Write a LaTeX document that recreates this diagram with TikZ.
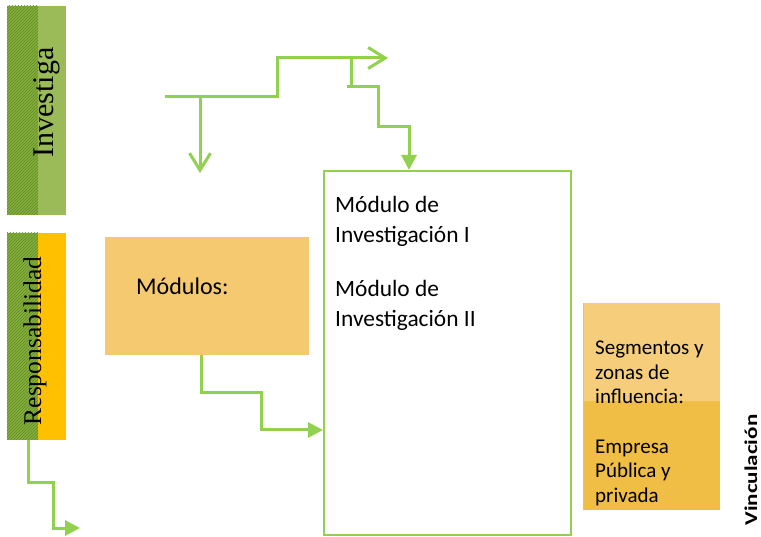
\documentclass[tikz,border=0pt]{standalone}
\usepackage{fontspec}
\setmainfont{Carlito}
\newfontfamily\barfont{Liberation Serif}
\usetikzlibrary{arrows.meta,patterns}

\definecolor{flecha}{HTML}{92D050}
\definecolor{verdeclaro}{HTML}{9BBB59}
\definecolor{verdeosc}{HTML}{86AE3E}
\definecolor{rayas}{HTML}{5F8E24}
\definecolor{naranja}{HTML}{FFC000}
\definecolor{arena}{HTML}{F5C96F}
\definecolor{arenaclara}{HTML}{F6CE7B}
\definecolor{ocre}{HTML}{F0BD45}
\definecolor{borde}{HTML}{E9B996}

\tikzset{
  conector/.style={draw=flecha, line width=3pt},
  abierta/.style={conector, -{Straight Barb[length=17pt,width=21pt]}},
  llena/.style={conector, -{Triangle[length=15pt,width=15pt]}},
  caja/.style={rectangle, inner sep=0pt, anchor=north west},
  texto/.style={anchor=base west, inner sep=0pt, align=left},
}

\begin{document}
\begin{tikzpicture}[x=1pt, y=-1pt]
		\useasboundingbox (0,0) rectangle (761,537);
		
		%side bars
		\node[caja, fill=verdeclaro, minimum width=59pt, minimum height=209pt] (investiga) at (7,6) {};
		\fill[verdeosc] (7,6) rectangle (38,215);
		\fill[pattern=north east lines, pattern color=rayas] (7,6) rectangle (38,215);
		\node[rotate=90, anchor=base, inner sep=0pt, font=\barfont\fontsize{30}{36}\selectfont] (txtinv) at (53,102.5) {Investiga};
		
		\node[caja, fill=naranja, minimum width=59pt, minimum height=207pt] (responsab) at (7,233) {};
		\fill[verdeosc] (7,233) rectangle (38,440);
		\fill[pattern=north east lines, pattern color=rayas] (7,233) rectangle (38,440);
		\node[rotate=90, anchor=base, inner sep=0pt, font=\barfont\fontsize{25.5}{30}\selectfont] (txtresp) at (41,341) {Responsabilidad};
		
		%boxes
		\node[caja, fill=arena, minimum width=204pt, minimum height=118pt] (modulos) at (105,237) {};
		\node[texto, font=\fontsize{24}{30}\selectfont] (txtmod) at (136,295) {Módulos:};
		
		\node[caja, draw=flecha, line width=2pt, minimum width=247pt, minimum height=364pt] (modulo) at (323,170) {};
		% base of the last line
		\node[texto, font=\fontsize{23.4}{30}\selectfont] (mod1) at (335,243) {Módulo de\\Investigación I};
		\node[texto, font=\fontsize{23.4}{30}\selectfont] (mod2) at (335,327) {Módulo de\\Investigación II};
		
		\node[caja, fill=arenaclara, minimum width=137pt, minimum height=98pt] (segmentos) at (583,303) {};
		\node[caja, fill=ocre, minimum width=137pt, minimum height=109pt] (empresa) at (583,401) {};
		\draw[borde, line width=1pt] (segmentos.north west) -- (empresa.south west);
		\node[texto, font=\fontsize{21}{24.5}\selectfont] (txtseg) at (595,404) {Segmentos y\\zonas de\\influencia:};
		\node[texto, font=\fontsize{21}{24.5}\selectfont] (txtemp) at (595,502) {Empresa\\Pública y\\privada};
		
		\node[rotate=90, anchor=base, inner sep=0pt, font=\bfseries\fontsize{18}{22}\selectfont] (vinc) at (757,470) {\scalebox{1.28}[1]{Vinculación}};
		
		%connectors
		\coordinate (inicio) at (165,97);
		\coordinate (punta1) at (388,58);
		\coordinate (rama1) at (200,97);
		\coordinate (punta2) at (200,173);
		\coordinate (rama2) at (351,58);
		\coordinate (codo2) at (351,87);
		\coordinate (punta4) at (80,528);
		\draw[abierta] (inicio) -- (277,97) |- (punta1);
		\draw[abierta] (rama1) -- (punta2);
		\draw[conector] (rama2) -- (codo2);
		\draw[llena] (347,87) -| (378,127) -| ([xshift=86pt]modulo.north west);
		\draw[llena] ([xshift=96pt]modulos.south west) |- (261,393) |- (modulo.west |- 0,430);
		\draw[llena] ([xshift=21pt]responsab.south west) |- (53,482) |- (punta4);
		\end{tikzpicture}
\end{document}
